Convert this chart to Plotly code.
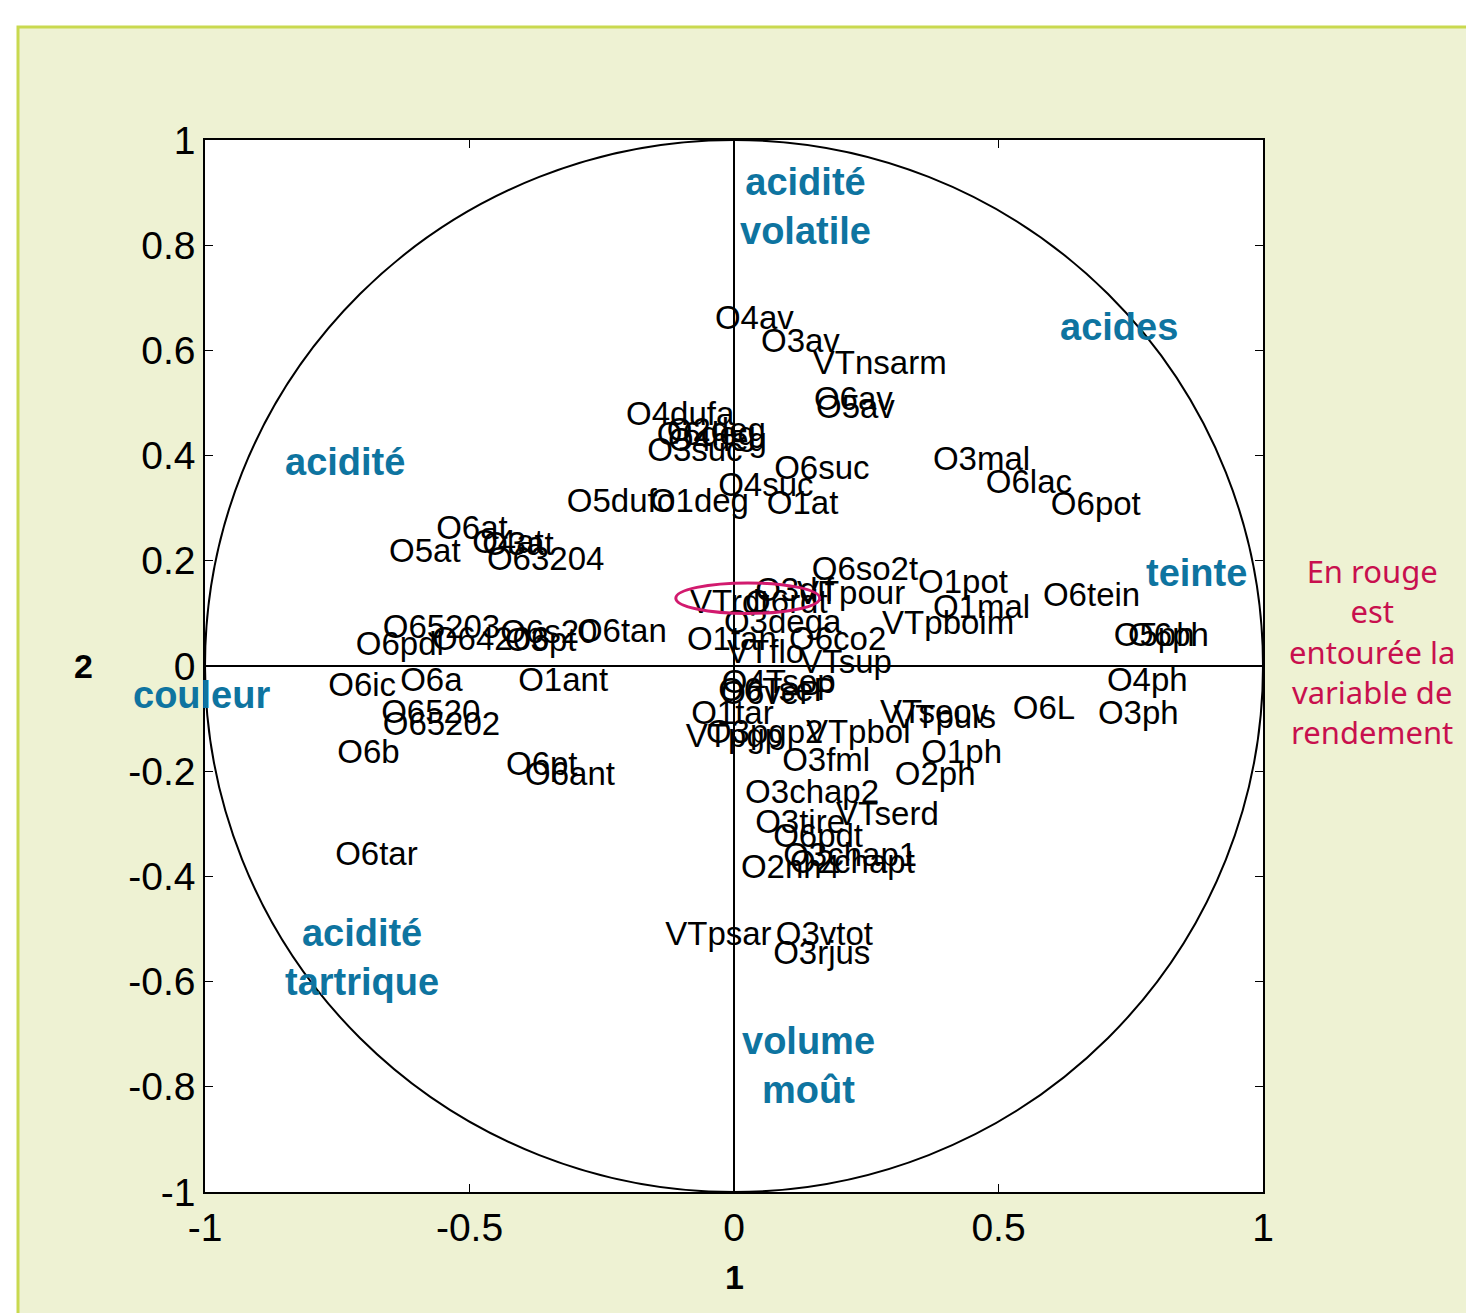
import plotly.graph_objects as go

# variables ACP : coordonnées sur les axes 1 et 2
labels = [
    "O4av", "O3av", "VTnsarm", "O6av", "O5av", "O4dufa", "O6deg", "O2deg", "O4deg",
    "O3suc", "O6suc", "O3mal", "O6lac", "O6pot", "O4suc", "O5dufo", "O1deg", "O1at",
    "O6at", "O5at", "O4at", "O3at", "O63204", "O6so2t", "O1pot", "O3dif", "VTpour",
    "VTrdt", "O6rdt", "O1mal", "O6tein", "O3dega", "VTpboim", "O1tan", "O6co2", "VTflo",
    "VTsup", "O5ph", "O6ph", "O4ph", "O3ph", "O6L", "VTseov", "VTpuls", "O1ph", "O2ph",
    "VTpbol", "O3fml", "O3chap2", "VTserd", "O3tire", "O6pdt", "O3chap1", "O2chapt",
    "O2nh4", "VTpsar", "O3vtot", "O3rjus", "O4Tsop", "O6TseP", "O6veP", "O1tar", "VTpgp",
    "O3pgp2", "O65203", "O6pdl", "O64206", "O6s20", "O3pt", "O6tan", "O6ic", "O6a",
    "O1ant", "O6520", "O65202", "O6b", "O6pt", "O6ant", "O6tar",
]
x_vals = [
    -0.036, 0.051, 0.149, 0.151, 0.155, -0.204, -0.146, -0.127, -0.125,
    -0.164, 0.076, 0.376, 0.476, 0.599, -0.030, -0.316, -0.159, 0.062,
    -0.563, -0.652, -0.495, -0.476, -0.467, 0.147, 0.348, 0.040, 0.119,
    -0.083, 0.021, 0.376, 0.584, -0.019, 0.280, -0.089, 0.104, -0.013,
    0.125, 0.718, 0.745, 0.705, 0.688, 0.527, 0.276, 0.301, 0.354, 0.304,
    0.136, 0.091, 0.021, 0.193, 0.040, 0.074, 0.093, 0.106,
    0.013, -0.130, 0.079, 0.074, -0.023, -0.030, -0.026, -0.081, -0.091,
    -0.053, -0.664, -0.715, -0.571, -0.442, -0.433, -0.297, -0.767, -0.631,
    -0.408, -0.667, -0.664, -0.750, -0.431, -0.395, -0.754,
]
y_vals = [
    0.657, 0.612, 0.570, 0.502, 0.488, 0.473, 0.435, 0.444, 0.425,
    0.406, 0.372, 0.389, 0.344, 0.302, 0.338, 0.309, 0.309, 0.304,
    0.258, 0.214, 0.230, 0.226, 0.199, 0.180, 0.155, 0.140, 0.133,
    0.117, 0.117, 0.106, 0.129, 0.079, 0.076, 0.047, 0.047, 0.022,
    0.002, 0.053, 0.053, -0.031, -0.095, -0.086, -0.092, -0.103, -0.168, -0.211,
    -0.130, -0.183, -0.244, -0.286, -0.301, -0.329, -0.364, -0.377,
    -0.388, -0.514, -0.514, -0.550, -0.035, -0.050, -0.057, -0.095, -0.139,
    -0.130, 0.068, 0.036, 0.047, 0.060, 0.045, 0.062, -0.042, -0.031,
    -0.031, -0.092, -0.116, -0.168, -0.191, -0.210, -0.362,
]

# groupes de variables (texte bleu)
group_names = ["acidité<br>volatile", "acides", "acidité", "teinte", "couleur",
               "acidité<br>tartrique", "volume<br>moût"]
group_x = [0.136, 0.728, -0.735, 0.875, -1.006, -0.703, 0.140]
group_y = [0.873, 0.644, 0.388, 0.177, -0.055, -0.555, -0.760]

# variable de rendement entourée
rdt_x, rdt_y = 0.026, 0.129
rdt_rx, rdt_ry = 0.136, 0.029

x_ticks = [-1, -0.5, 0, 0.5, 1]
x_ticktext = ["-1", "-0.5", "0", "0.5", "1"]
y_ticks = [-1, -0.8, -0.6, -0.4, -0.2, 0, 0.2, 0.4, 0.6, 0.8, 1]
y_ticktext = ["-1", "-0.8", "-0.6", "-0.4", "-0.2", "0", "0.2", "0.4", "0.6", "0.8", "1"]

BLUE = "#0e74a0"
RED = "#c8104e"
W, H = 1466, 1313
L, R, T, B = 205, 203, 140, 121
pw, ph = W - L - R, H - T - B

fig = go.Figure()

fig.add_trace(go.Scatter(
    x=x_vals, y=y_vals, text=labels, mode="text",
    textposition="middle right", cliponaxis=False,
    textfont=dict(family="Liberation Sans", size=33, color="black"),
    hoverinfo="text", showlegend=False,
))

# étiquettes des groupes (repère papier pour ne pas masquer "couleur" au bord)
for g, gx, gy in zip(group_names, group_x, group_y):
    fig.add_annotation(x=(gx + 1) / 2, y=(gy + 1) / 2, xref="paper", yref="paper",
                       text=f"<b>{g}</b>",
                       xanchor="center", yanchor="middle", showarrow=False,
                       align="center",
                       font=dict(family="Liberation Sans", size=38, color=BLUE))

# fond du cadre jaune
fig.add_shape(type="rect", xref="paper", yref="paper",
              x0=(18 - L) / pw, x1=(W + 20 - L) / pw,
              y0=-(B + 20) / ph, y1=(ph + T - 27) / ph,
              fillcolor="#eef2d3", line=dict(color="#c9d94f", width=3), layer="below")
fig.add_shape(type="rect", xref="paper", yref="paper", x0=0, x1=1, y0=0, y1=1,
              fillcolor="white", line=dict(width=0), layer="below")

# cercle des corrélations
fig.add_shape(type="circle", x0=-1, y0=-1, x1=1, y1=1,
              line=dict(color="black", width=2))
# ellipse rouge
fig.add_shape(type="circle", x0=rdt_x - rdt_rx, x1=rdt_x + rdt_rx,
              y0=rdt_y - rdt_ry, y1=rdt_y + rdt_ry,
              line=dict(color="#d21a6e", width=3))

fig.add_annotation(x=0, y=-85 / ph, xref="x", yref="paper", text="<b>1</b>",
                   xanchor="center", yanchor="middle", showarrow=False,
                   font=dict(family="Liberation Sans", size=34, color="black"))
fig.add_annotation(x=(83 - L) / pw, y=0, xref="paper", yref="y", text="<b>2</b>",
                   xanchor="center", yanchor="middle", showarrow=False,
                   font=dict(family="Liberation Sans", size=34, color="black"))
fig.add_annotation(x=(1372 - L) / pw, y=(T + ph - 651) / ph, xref="paper", yref="paper",
                   text="En rouge<br>est<br>entourée la<br>variable de<br>rendement",
                   xanchor="center", yanchor="middle", showarrow=False, align="center",
                   font=dict(family="Noto Sans", size=31, color=RED))

axis_common = dict(
    showgrid=False, zeroline=True, zerolinecolor="black", zerolinewidth=2,
    showline=True, linecolor="black", linewidth=1.5, mirror="ticks",
    ticks="inside", ticklen=8, tickcolor="black",
    tickfont=dict(family="Liberation Sans", size=39, color="black"),
)
fig.update_xaxes(range=[-1, 1], tickvals=x_ticks, ticktext=x_ticktext, **axis_common)
fig.update_yaxes(range=[-1, 1], tickvals=y_ticks, ticktext=y_ticktext, **axis_common)

fig.update_layout(
    width=W, height=H, autosize=False,
    margin=dict(l=L, r=R, t=T, b=B),
    paper_bgcolor="white", plot_bgcolor="rgba(0,0,0,0)",
)

# la page est remplie par la figure : on retire la marge du corps html
fig.write_html("out.html", config={"displayModeBar": False},
               post_script="document.body.style.margin='0';document.body.style.overflow='hidden';")
